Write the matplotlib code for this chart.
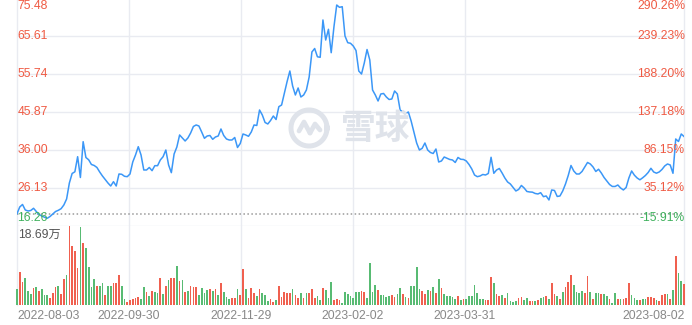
import matplotlib
matplotlib.use('Agg')
import matplotlib.pyplot as plt
import numpy as np
from matplotlib.lines import Line2D

plt.rcParams['font.family'] = ['Liberation Sans', 'Noto Sans CJK SC', 'DejaVu Sans']

# ---------------- data ----------------
price = [
    19.45, 21.20, 21.85, 20.42, 20.16, 20.29, 20.86, 20.03, 19.25, 18.86,
    18.53, 18.27, 18.74, 19.38, 20.03, 20.34, 20.76, 21.72, 23.28, 27.43,
    29.90, 30.34, 34.26, 28.86, 38.16, 34.05, 33.46, 32.24, 31.98, 31.46,
    30.29, 29.25, 28.34, 27.43, 26.65, 27.77, 26.65, 29.77, 29.69, 29.17,
    29.07, 29.77, 32.89, 34.71, 36.86, 34.71, 30.81, 30.81, 31.46, 30.63,
    31.93, 31.93, 33.41, 34.26, 36.00, 32.11, 30.11, 34.96, 36.78, 39.90,
    39.12, 38.34, 39.12, 40.42, 42.11, 42.50, 42.24, 40.68, 39.04, 39.64,
    39.77, 38.78, 39.38, 39.64, 41.46, 39.77, 38.86, 38.60, 38.60, 39.25,
    36.65, 37.69, 40.16, 39.90, 39.56, 40.68, 42.50, 42.37, 46.39, 45.09,
    43.15, 42.76, 43.67, 44.83, 43.92, 47.25, 47.69, 50.68, 53.79, 56.52,
    52.63, 50.29, 52.11, 49.77, 50.29, 51.59, 54.96, 61.46, 62.36, 60.21,
    60.08, 69.77, 64.57, 67.35, 61.27, 68.03, 73.66, 73.06, 73.22, 65.61,
    63.87, 63.72, 63.01, 61.84, 56.52, 55.74, 58.60, 62.10, 59.38, 51.59,
    50.29, 48.73, 50.55, 50.68, 49.77, 49.12, 49.25, 51.33, 50.55, 46.39,
    45.87, 45.48, 45.87, 43.53, 40.68, 37.82, 36.00, 36.44, 37.82, 36.00,
    35.35, 35.09, 36.26, 32.89, 33.15, 34.18, 33.85, 33.54, 33.41, 32.76,
    34.06, 33.59, 33.54, 33.15, 32.24, 31.07, 29.51, 29.07, 29.25, 29.64,
    29.51, 29.90, 34.11, 29.95, 30.81, 31.20, 30.03, 28.73, 27.69, 27.17,
    26.26, 25.36, 25.75, 26.79, 26.13, 25.23, 25.10, 25.05, 24.71, 24.58,
    24.91, 23.88, 24.06, 23.02, 25.62, 25.49, 23.93, 24.06, 25.36, 27.17,
    29.38, 31.98, 30.55, 29.77, 29.77, 30.42, 31.59, 32.76, 32.37, 31.59,
    30.42, 31.00, 30.03, 28.86, 27.95, 27.04, 26.53, 26.53, 26.91, 26.13,
    25.62, 26.26, 28.73, 30.55, 29.46, 28.73, 28.26, 28.78, 29.38, 30.16,
    31.25, 30.29, 29.98, 30.29, 30.94, 31.85, 32.37, 32.11, 29.95, 38.86,
    38.21, 40.16, 39.51,
]

volume = [  # 万
    3.71, 7.74, 5.51, 6.32, 3.31, 2.53, 3.95, 4.33, 3.31, 3.79,
    2.37, 2.37, 1.59, 2.91, 4.33, 4.57, 2.53, 6.08, 7.10, 18.69,
    13.96, 12.78, 8.68, 18.38, 14.74, 13.41, 9.06, 4.33, 6.08, 4.50,
    4.50, 5.13, 2.37, 4.50, 4.57, 5.13, 5.13, 7.10, 4.50, 1.35,
    0.78, 1.18, 1.42, 1.59, 1.96, 1.42, 4.33, 3.00, 2.13, 3.31,
    3.00, 2.91, 6.32, 2.60, 4.50, 5.91, 6.32, 6.32, 9.23, 5.68,
    5.91, 3.15, 3.31, 4.50, 4.19, 4.33, 2.37, 3.95, 2.77, 3.55,
    3.71, 3.31, 3.79, 2.37, 5.13, 3.15, 1.96, 1.35, 1.59, 1.73,
    3.79, 2.37, 8.45, 3.71, 1.73, 3.95, 2.77, 2.13, 3.71, 2.77,
    2.37, 0.95, 1.35, 0.78, 1.18, 4.50, 1.96, 3.15, 2.91, 2.91,
    3.79, 2.37, 1.59, 2.77, 1.73, 2.77, 2.77, 3.71, 1.59, 2.13,
    1.18, 4.09, 3.55, 1.73, 5.44, 1.18, 1.35, 1.18, 0.54, 3.15,
    2.53, 2.13, 1.59, 3.15, 3.15, 3.31, 3.15, 1.73, 9.87, 3.15,
    4.73, 3.55, 2.37, 2.37, 1.96, 2.13, 2.37, 1.96, 2.60, 3.95,
    2.60, 1.82, 1.73, 4.57, 4.57, 8.92, 3.71, 3.31, 2.60, 3.55,
    3.31, 4.19, 2.91, 6.08, 4.09, 2.53, 2.13, 2.13, 1.96, 1.35,
    2.13, 1.18, 1.49, 1.35, 2.13, 2.20, 4.73, 2.77, 1.35, 1.42,
    1.18, 1.18, 6.55, 5.28, 2.60, 2.13, 2.37, 1.59, 2.77, 1.02,
    0.64, 0.95, 1.59, 1.82, 1.18, 1.59, 0.95, 0.95, 0.95, 1.18,
    1.59, 1.96, 2.20, 1.42, 5.28, 2.53, 2.13, 1.42, 3.15, 4.19,
    5.51, 7.10, 4.73, 3.15, 2.91, 3.31, 2.91, 6.93, 3.15, 1.35,
    2.91, 2.91, 2.60, 2.53, 2.13, 1.35, 0.54, 2.77, 1.35, 1.35,
    1.35, 1.59, 5.13, 2.37, 1.59, 1.18, 1.18, 1.35, 1.35, 1.82,
    1.82, 1.59, 1.18, 1.02, 2.37, 2.60, 2.53, 1.42, 3.55, 11.59,
    7.64, 5.68, 4.97,
]

# r = up day (red), g = down day (green)
updown = ("grrgggrgrg" "ggrrrgrrgr" "rrrgrggggr" "ggrggrrrgg" "rrrrrggrgr"
          "ggrgrgrrgr" "grgrrrgggg" "rgrgrgggrr" "grrgrrrgrg" "ggrrgrrrrr"
          "grrgrgrrrg" "grgggrrrgg" "gggggrrggg" "grggggrrgg" "rgrggggrrg"
          "rgrgrggggg" "rgrggggggg" "rrrgrrgrgg" "ggrrggrrgr" "ggrgrrgrgr"
          "rrggggrrgr" "ggrggrggrg" "rrrgggrggr" "rrgrrrgrgr" "ggr")

price_ticks = [75.48, 65.61, 55.74, 45.87, 36.00, 26.13, 16.26]
pct_labels = ['290.26%', '239.23%', '188.20%', '137.18%', '86.15%', '35.12%', '-15.91%']
base_price = 19.34
date_labels = ['2022-08-03', '2022-09-30', '2022-11-29', '2023-02-02', '2023-03-31', '2023-08-02']
vol_max = 18.69
vol_max_label = '18.69万'

# ---------------- style ----------------
RED = '#ef5a43'
GREEN = '#3fb15d'
BAR_RED = '#f0604f'
BAR_GREEN = '#58bb73'
LINE = '#3b97f7'
GRID = '#e9ebf1'

W, H = 692, 325
fig = plt.figure(figsize=(W / 100, H / 100), dpi=100)
fig.patch.set_facecolor('white')


def rect(x0, y0, x1, y1):
    return [x0 / W, 1 - y1 / H, (x1 - x0) / W, (y1 - y0) / H]


def fx(px):
    return np.asarray(px) / W


def fy(py):
    return 1 - np.asarray(py) / H


X0, X1 = 17, 684
ax = fig.add_axes(rect(X0, -2, X1, 226))
axv = fig.add_axes(rect(X0, 226, X1, 305))
for a in (ax, axv):
    a.set_axis_off()
    a.patch.set_alpha(0)

n = len(price)
x = np.arange(n)

# grid (horizontal)
for p in price_ticks:
    ax.axhline(p, color=GRID, lw=1.0, zorder=0)
# vertical grid lines across the whole chart
for k in range(0, 5):
    px = X0 + k * 112
    fig.add_artist(Line2D([fx(px), fx(px)], [fy(0), fy(305)], color=GRID, lw=1.0, zorder=0))
fig.add_artist(Line2D([fx(X1), fx(X1)], [fy(0), fy(305)], color=GRID, lw=1.0, zorder=0))

# watermark (logo ring + mark + text), drawn in pixel space
wm_color = '#dfe3ea'
t = np.linspace(0, 2 * np.pi, 120)
cx, cy, r = 309, 128, 18
fig.add_artist(Line2D(fx(cx + r * np.cos(t)), fy(cy + r * np.sin(t)),
                      color=wm_color, lw=3.6, zorder=1))
fig.add_artist(Line2D(fx([299, 304, 310]), fy([131, 122, 133]),
                      color=wm_color, lw=3.4, solid_capstyle='round', solid_joinstyle='round', zorder=1))
fig.add_artist(Line2D(fx([310, 315, 320]), fy([133, 124, 130]),
                      color=wm_color, lw=3.4, solid_capstyle='round', solid_joinstyle='round', zorder=1))
fig.text(fx(376), fy(128), '雪球', family=['Noto Sans CJK SC'], fontsize=25,
         fontweight='bold', color=wm_color, ha='center', va='center', zorder=1)

# price line
ax.plot(x, price, color=LINE, lw=1.1, zorder=5, solid_joinstyle='round')
ax.axhline(base_price, color='#9a9a9a', lw=1.1, ls=(0, (1, 1.6)), zorder=3)
ax.set_xlim(0, n - 1)
ax.set_ylim(price_ticks[-1], price_ticks[0])

# volume bars
colors = [BAR_RED if c == 'r' else BAR_GREEN for c in updown]
axv.bar(x, volume, width=0.62, color=colors, clip_on=False, zorder=3)
axv.set_xlim(0, n - 1)
axv.set_ylim(0, vol_max)

# labels
FS = 8.7
for i, (p, lab) in enumerate(zip(price_ticks, pct_labels)):
    col = RED if p > base_price else GREEN
    if i == 0:
        va, dy = 'top', 2
    elif i == len(price_ticks) - 1:
        va, dy = 'bottom', -2
    else:
        va, dy = 'center', 0
    ypx = -2 + i * 38 + dy
    fig.text(fx(X0 + 0.5), fy(ypx), f'{p:.2f}', color=col, fontsize=FS, ha='left', va=va)
    fig.text(fx(X1 + 1), fy(ypx), lab, color=col, fontsize=FS, ha='right', va=va)

fig.text(fx(X0 + 1), fy(234.5), vol_max_label, color='#555555', fontsize=FS,
         ha='left', va='center')

for k, lab in enumerate(date_labels):
    if k == 0:
        px, ha = X0, 'left'
    elif k == len(date_labels) - 1:
        px, ha = X1 + 1, 'right'
    else:
        px, ha = X0 + k * 112, 'center'
    fig.text(fx(px), fy(316), lab, color='#888888', fontsize=FS, ha=ha, va='center')

fig.savefig('out.png', dpi=100, facecolor='white')
